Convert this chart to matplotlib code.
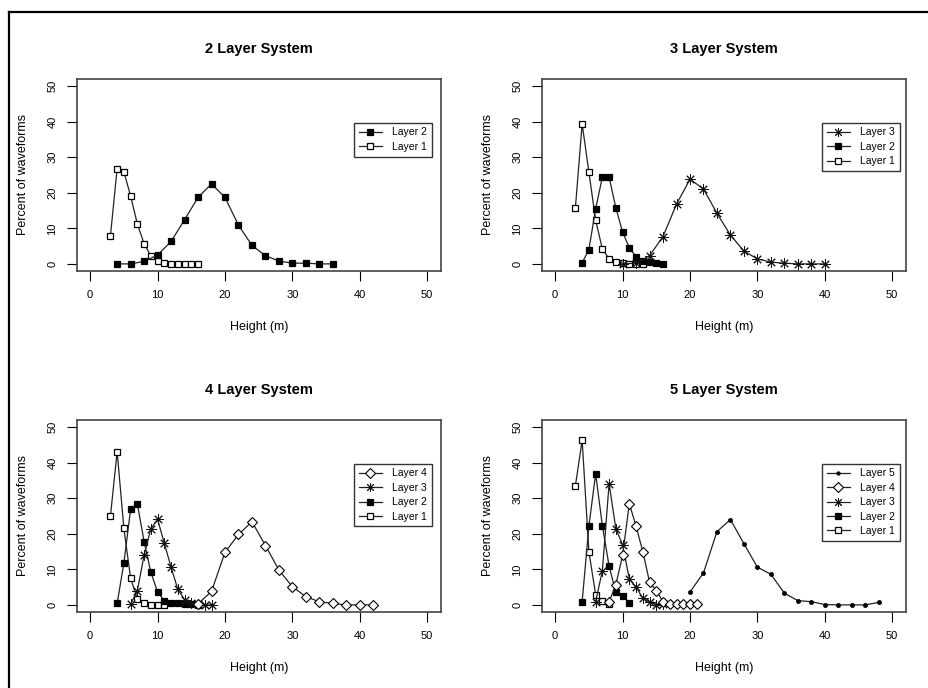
import numpy as np
from matplotlib import pyplot as plt
from matplotlib.lines import Line2D

plt.rcParams['font.family'] = ['Liberation Sans', 'DejaVu Sans']

# ---- data (Height in m, percent of waveforms) ----
# 2 layer system
h2_l1 = list(range(3, 17))
p2_l1 = [7.8, 26.8, 25.9, 19.1, 11.2, 5.7, 2.2, 0.8, 0.3, 0.1, 0, 0, 0, 0]
h2_l2 = list(range(4, 37, 2))
p2_l2 = [0, 0, 0.7, 2.5, 6.3, 12.4, 18.7, 22.5, 18.7, 10.9, 5.2, 2.3, 0.8, 0.2, 0.2, 0, 0]

# 3 layer system
h3_l1 = list(range(3, 14))
p3_l1 = [15.8, 39.4, 25.8, 12.3, 4.2, 1.4, 0.5, 0.2, 0, 0, 0]
h3_l2 = list(range(4, 17))
p3_l2 = [0.3, 4.0, 15.5, 24.4, 24.4, 15.8, 8.9, 4.6, 2.0, 0.8, 0.5, 0.3, 0.1]
h3_l3 = list(range(10, 41, 2))
p3_l3 = [0, 0.2, 2.3, 7.7, 16.8, 23.8, 21.1, 14.2, 8.1, 3.6, 1.4, 0.5, 0.2, 0, 0, 0]

# 4 layer system
h4_l1 = list(range(3, 12))
p4_l1 = [24.9, 43.1, 21.5, 7.5, 1.6, 0.5, 0.1, 0, 0]
h4_l2 = list(range(4, 17))
p4_l2 = [0.4, 11.8, 26.9, 28.4, 17.8, 9.2, 3.6, 1.2, 0.5, 0.4, 0.3, 0.2, 0.1]
h4_l3 = list(range(6, 19))
p4_l3 = [0.2, 4.0, 14.0, 21.4, 24.1, 17.3, 10.6, 4.4, 1.5, 0.5, 0.2, 0, 0]
h4_l4 = list(range(16, 43, 2))
p4_l4 = [0.3, 3.8, 14.8, 19.8, 23.4, 16.7, 9.8, 5.1, 2.3, 0.9, 0.4, 0, 0, 0]

# 5 layer system
h5_l1 = list(range(3, 9))
p5_l1 = [33.5, 46.3, 15.0, 2.9, 1.0, 0.2]
h5_l2 = list(range(4, 12))
p5_l2 = [0.9, 22.1, 36.9, 22.3, 10.9, 3.5, 2.6, 0.5]
h5_l3 = list(range(6, 17))
p5_l3 = [0.9, 9.6, 34.1, 21.4, 16.9, 7.3, 5.0, 1.9, 0.8, 0.1, 0.3]
h5_l4 = list(range(8, 22))
p5_l4 = [0.9, 5.7, 13.9, 28.5, 22.1, 15.0, 6.4, 4.0, 0.9, 0.3, 0.2, 0.2, 0.2, 0.3]
h5_l5 = list(range(20, 49, 2))
p5_l5 = [3.6, 9.0, 20.6, 24.0, 17.2, 10.6, 8.6, 3.3, 1.2, 0.9, 0.1, 0, 0, 0, 0.7]

titles = ["2 Layer System", "3 Layer System", "4 Layer System", "5 Layer System"]
panels = [
    [(h2_l1, p2_l1), (h2_l2, p2_l2)],
    [(h3_l1, p3_l1), (h3_l2, p3_l2), (h3_l3, p3_l3)],
    [(h4_l1, p4_l1), (h4_l2, p4_l2), (h4_l3, p4_l3), (h4_l4, p4_l4)],
    [(h5_l1, p5_l1), (h5_l2, p5_l2), (h5_l3, p5_l3), (h5_l4, p5_l4), (h5_l5, p5_l5)],
]

# marker style per layer (R pch 0, 15, 8, 5, 20)
styles = [
    dict(marker='s', ms=5, mfc='white', mec='black', mew=0.9),
    dict(marker='s', ms=5, mfc='black', mec='black', mew=0.9),
    dict(marker=(8, 2, 0), ms=7.5, mec='#111111', mew=0.7),
    dict(marker='D', ms=5.5, mfc='white', mec='black', mew=0.8),
    dict(marker='o', ms=3, mfc='black', mec='black', mew=0.5),
]

W, H = 929, 688
fig = plt.figure(figsize=(W / 100, H / 100), dpi=100)

# outer frame (left and top edges visible)
fig.add_artist(Line2D([9 / W, 9 / W], [0, 1 - 12 / H], color='black', lw=1.6))
fig.add_artist(Line2D([9 / W, 1], [1 - 12 / H, 1 - 12 / H], color='black', lw=1.6))

lefts = [76.7, 541.7, 76.7, 541.7]
tops = [79, 79, 420, 420]
aw, ah = 364, 192
leg_x = [0.975, 0.983, 0.975, 0.983]

for k in range(4):
    ax = fig.add_axes([lefts[k] / W, 1 - (tops[k] + ah) / H, aw / W, ah / H])
    for i, (h, p) in enumerate(panels[k]):
        ax.plot(h, p, color='#222222', lw=0.9, label="Layer " + str(i + 1), **styles[i])
    ax.set_xlim(-2, 52)
    ax.set_ylim(-2, 52)
    ax.set_xticks(np.arange(0, 51, 10))
    ax.set_yticks(np.arange(0, 51, 10))
    ax.tick_params(direction='out', length=7, width=0.8, labelsize=8, pad=7)
    ax.tick_params(axis='y', labelrotation=90)
    for lab in ax.get_yticklabels():
        lab.set_va('center')
    for s in ax.spines.values():
        s.set_color('#444444')
        s.set_linewidth(1.2)
    ax.set_title(titles[k], fontsize=10.5, fontweight='bold', pad=19)
    ax.set_xlabel("Height (m)", fontsize=9, labelpad=15)
    ax.set_ylabel("Percent of waveforms", fontsize=9, labelpad=13)
    hh, ll = ax.get_legend_handles_labels()
    leg = ax.legend(hh[::-1], ll[::-1], loc='upper right', bbox_to_anchor=(leg_x[k], 0.772),
                    fontsize=7.5, frameon=True, fancybox=False, edgecolor='black',
                    borderpad=0.45, labelspacing=0.42, handlelength=2.2, handletextpad=1.0,
                    borderaxespad=0, markerscale=0.85)
    leg.get_frame().set_linewidth(1.0)

fig.savefig("out.png", dpi=100)
